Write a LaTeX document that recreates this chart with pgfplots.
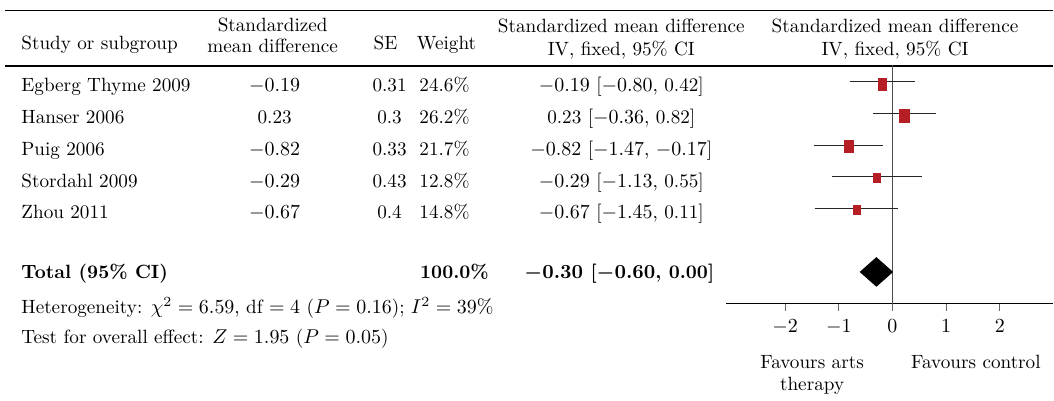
\documentclass[border=0pt]{standalone}
\usepackage{pgfplots}
\pgfplotsset{compat=1.18}
\definecolor{sqred}{RGB}{180,30,36}
\begin{document}
\fontsize{9.6}{11.5}\selectfont
\begin{tikzpicture}
% table part, in pixel units of the reference (1px = 0.5pt, y downwards)
\begin{scope}[x=0.5pt,y=-0.5pt]
\useasboundingbox (0,0) rectangle (1054,401);
\draw[line width=0.6pt] (5,10.5) -- (1054,10.5);
\draw[line width=0.6pt] (5,66) -- (1054,66);
\coordinate (ax) at (727,304);

\node[anchor=base west,inner sep=0] at (21,50) {Study or subgroup};
\node[anchor=base,inner sep=0] at (273,32) {Standardized};
\node[anchor=base,inner sep=0] at (273,53) {mean difference};
\node[anchor=base,inner sep=0] at (386,50) {SE};
\node[anchor=base,inner sep=0] at (447,50) {Weight};
\node[anchor=base,inner sep=0] at (622,33) {Standardized mean difference};
\node[anchor=base,inner sep=0] at (622,56) {IV, fixed, 95\% CI};
\node[anchor=base,inner sep=0] at (896,33) {Standardized mean difference};
\node[anchor=base,inner sep=0] at (896,56) {IV, fixed, 95\% CI};

\foreach \name/\smd/\se/\wt/\ci [count=\i from 0] in {
  Egberg Thyme 2009/$-0.19$/0.31/24.6\%/{$-0.19$ [$-0.80$, 0.42]},
  Hanser 2006/0.23/0.3/26.2\%/{0.23 [$-0.36$, 0.82]},
  Puig 2006/$-0.82$/0.33/21.7\%/{$-0.82$ [$-1.47$, $-0.17$]},
  Stordahl 2009/$-0.29$/0.43/12.8\%/{$-0.29$ [$-1.13$, 0.55]},
  Zhou 2011/$-0.67$/0.4/14.8\%/{$-0.67$ [$-1.45$, 0.11]}}{
  \pgfmathsetmacro{\yb}{92+31.75*\i}
  \node[anchor=base west,inner sep=0] at (21,\yb) {\name};
  \node[anchor=base,inner sep=0] at (275,\yb) {\smd};
  \node[anchor=base,inner sep=0] at (390,\yb) {\se};
  \node[anchor=base,inner sep=0] at (445,\yb) {\wt};
  \node[anchor=base,inner sep=0] at (622,\yb) {\ci};
}
\node[anchor=base west,inner sep=0] at (21,279) {\textbf{Total (95\% CI)}};
\node[anchor=base,inner sep=0] at (455,279) {\textbf{100.0\%}};
\node[anchor=base,inner sep=0] at (620,279) {\textbf{\boldmath$-0.30$ [$-0.60$, 0.00]}};
\node[anchor=base west,inner sep=0] at (21,314) {Heterogeneity: $\chi^2 = 6.59$,\ df $=4$ ($P=0.16$); $I^2 = 39\%$};
\node[anchor=base west,inner sep=0] at (21,344) {Test for overall effect: $Z = 1.95$ ($P = 0.05$)};

\node[anchor=base,inner sep=0] at (813,369) {Favours arts};
\node[anchor=base,inner sep=0] at (813,391) {therapy};
\node[anchor=base,inner sep=0] at (977,369) {Favours control};
\end{scope}

\begin{axis}[
  at={(ax)}, anchor=south west,
  x=26.85pt, y=15.875pt,
  xmin=-3.1, xmax=3, ymin=-8, ymax=-0.465,
  axis x line=bottom, axis y line=none,
  x axis line style={-, line width=0.6pt},
  xtick={-2,-1,0,1,2},
  tick align=outside, major tick length=3.5pt,
  tick style={black!60, line width=0.6pt},
  xticklabel style={yshift=-1pt},
  clip=false]
% line of no effect
\addplot[black!70, line width=0.6pt] coordinates {(0,-0.465) (0,-8)};
% confidence intervals
\addplot[black!85, line width=0.5pt] coordinates {(-0.80,-1) (0.42,-1)};
\addplot[black!85, line width=0.5pt] coordinates {(-0.36,-2) (0.82,-2)};
\addplot[black!85, line width=0.5pt] coordinates {(-1.47,-3) (-0.17,-3)};
\addplot[black!85, line width=0.5pt] coordinates {(-1.13,-4) (0.55,-4)};
\addplot[black!85, line width=0.5pt] coordinates {(-1.45,-5) (0.11,-5)};
% study estimates, size by weight
\addplot[only marks, mark=square*, color=sqred, mark size=2.9pt, mark options={xscale=0.75}] coordinates {(-0.19,-1.08)};
\addplot[only marks, mark=square*, color=sqred, mark size=3.2pt, mark options={xscale=0.78}] coordinates {(0.23,-2.08)};
\addplot[only marks, mark=square*, color=sqred, mark size=2.9pt, mark options={xscale=0.78}] coordinates {(-0.82,-3.05)};
\addplot[only marks, mark=square*, color=sqred, mark size=2.25pt, mark options={xscale=0.68}] coordinates {(-0.29,-4.05)};
\addplot[only marks, mark=square*, color=sqred, mark size=2.3pt, mark options={xscale=0.75}] coordinates {(-0.67,-5.05)};
% pooled estimate
\addplot[fill=black, draw=black] coordinates {(-0.60,-7) (-0.30,-6.55) (0.00,-7) (-0.30,-7.45)} -- cycle;
\end{axis}
\end{tikzpicture}
\end{document}
